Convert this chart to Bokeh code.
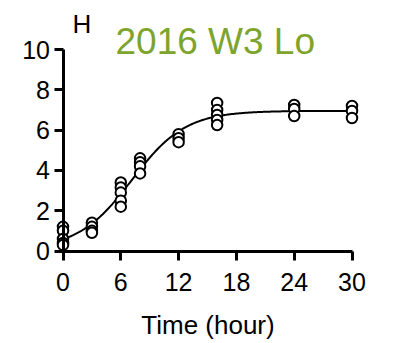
import numpy as np
from bokeh.plotting import figure
from bokeh.models import Range1d, FixedTicker, Label
from bokeh.embed import file_html
from bokeh.resources import INLINE

# ---- data ----
times = [0, 3, 6, 8, 12, 16, 24, 30]
replicates = [
    [1.2, 1.0, 0.6, 0.4, 0.3],
    [1.4, 1.2, 1.0, 0.9],
    [3.4, 3.15, 2.9, 2.5, 2.2],
    [4.6, 4.4, 4.2, 3.85],
    [5.8, 5.6, 5.4],
    [7.35, 7.0, 6.75, 6.5, 6.25],
    [7.25, 7.05, 6.7],
    [7.2, 6.95, 6.6],
]
x_ticks = [0, 6, 12, 18, 24, 30]
y_ticks = [0, 2, 4, 6, 8, 10]
title_text = "2016 W3 Lo"
panel_letter = "H"
x_label = "Time (hour)"

xs = [t for t, reps in zip(times, replicates) for _ in reps]
ys = [v for reps in replicates for v in reps]

# ---- logistic (sigmoid) fit of the points ----
xa = np.array(xs, float)
ya = np.array(ys, float)
best = None
for k in np.linspace(0.05, 1.0, 191):
    for t50 in np.linspace(2, 14, 241):
        s = 1.0 / (1.0 + np.exp(-k * (xa - t50)))
        A = np.column_stack([1 - s, s])
        coef, *_ = np.linalg.lstsq(A, ya, rcond=None)
        err = np.sum((A @ coef - ya) ** 2)
        if best is None or err < best[0]:
            best = (err, k, t50, coef)
_, k, t50, (bot, top) = best
tc = np.linspace(0, 30, 301)
sc = 1.0 / (1.0 + np.exp(-k * (tc - t50)))
yc = bot * (1 - sc) + top * sc

FONT = "Liberation Sans"
W, H = 393, 343
# pixel placement of the data frame (x=0..30, y=0..10)
X0, X30 = 62.5, 351.5
Y0, Y10 = 250.5, 49.0
sx = (X30 - X0) / 30.0
sy = (Y0 - Y10) / 10.0

p = figure(
    width=W, height=H,
    x_range=Range1d(-X0 / sx, (W - X0) / sx),
    y_range=Range1d(-(H - Y0) / sy, Y0 / sy),
    min_border=0, min_border_left=0, min_border_right=0,
    min_border_top=0, min_border_bottom=0,
    output_backend="svg", toolbar_location=None,
)
p.outline_line_color = None
p.xgrid.visible = False
p.ygrid.visible = False
p.background_fill_color = "white"
p.border_fill_color = "white"

for ax in (p.xaxis[0], p.yaxis[0]):
    ax.fixed_location = 0
    ax.axis_line_width = 3
    ax.axis_line_color = "black"
    ax.major_tick_line_width = 3
    ax.major_tick_line_color = "black"
    ax.major_tick_out = 9
    ax.major_tick_in = 0
    ax.minor_tick_line_color = None
    ax.major_label_text_font = FONT
    ax.major_label_text_font_size = "25px"
    ax.major_label_text_color = "black"

p.xaxis[0].bounds = (0, 30)
p.yaxis[0].bounds = (0, 10)
p.xaxis[0].ticker = FixedTicker(ticks=x_ticks)
p.yaxis[0].ticker = FixedTicker(ticks=y_ticks)
p.xaxis[0].major_label_standoff = 13
p.yaxis[0].major_label_standoff = 4
p.xaxis[0].axis_label = x_label
p.xaxis[0].axis_label_text_font = FONT
p.xaxis[0].axis_label_text_font_size = "26px"
p.xaxis[0].axis_label_text_font_style = "normal"
p.xaxis[0].axis_label_text_color = "black"
p.xaxis[0].axis_label_standoff = 15

p.line(tc, yc, line_color="black", line_width=2)
p.scatter(xs, ys, marker="circle", size=10.5, fill_color="white",
          line_color="black", line_width=2)

p.add_layout(Label(x=(115 - X0) / sx, y=(Y0 - 41) / sy, text=title_text,
                   text_font=FONT, text_font_size="37px", text_color="#7DA42C",
                   text_baseline="alphabetic"))
p.add_layout(Label(x=(72 - X0) / sx, y=(Y0 - 23) / sy, text=panel_letter,
                   text_font=FONT, text_font_size="26px", text_color="black",
                   text_baseline="alphabetic"))

open("out.html", "w").write(file_html(p, INLINE))
